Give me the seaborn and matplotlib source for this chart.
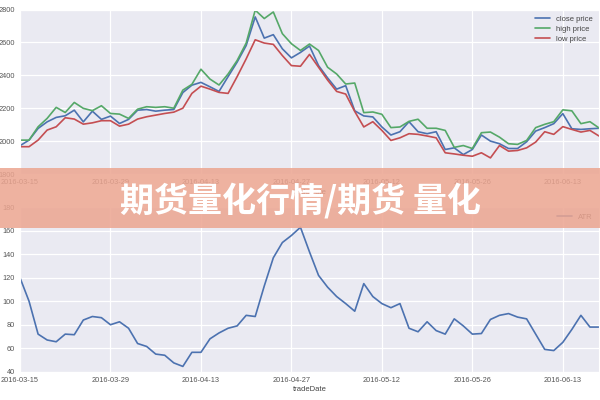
import matplotlib
matplotlib.use("Agg")
import matplotlib.pyplot as plt
import seaborn as sns
import pandas as pd
from matplotlib.patches import Rectangle

# ---- data ----
close_price = [1972, 2006, 2077, 2117, 2144, 2154, 2188, 2117, 2182, 2132,
               2152, 2107, 2132, 2188, 2192, 2182, 2188, 2192, 2295, 2340,
               2357, 2330, 2302, 2392, 2480, 2581, 2755, 2626, 2647, 2561,
               2506, 2539, 2578, 2459, 2384, 2316, 2337, 2184, 2153, 2147,
               2086, 2037, 2057, 2118, 2057, 2045, 2057, 1949, 1959, 1918,
               1949, 2037, 2000, 1984, 1955, 1955, 1996, 2061, 2082, 2106,
               2167, 2075, 2071, 2075, 2078]
high_price = [2006, 2006, 2087, 2138, 2205, 2174, 2235, 2199, 2185, 2215,
              2168, 2164, 2138, 2194, 2209, 2205, 2209, 2200, 2310, 2345,
              2437, 2377, 2341, 2408, 2490, 2596, 2796, 2745, 2785, 2653,
              2592, 2551, 2590, 2551, 2449, 2408, 2347, 2353, 2173, 2177,
              2163, 2082, 2086, 2120, 2133, 2078, 2078, 2065, 1962, 1973,
              1955, 2051, 2055, 2024, 1984, 1980, 2004, 2082, 2102, 2118,
              2190, 2184, 2106, 2118, 2080]
low_price = [1966, 1966, 2006, 2067, 2087, 2142, 2134, 2103, 2111, 2124,
             2124, 2091, 2103, 2134, 2148, 2158, 2168, 2176, 2200, 2290,
             2334, 2316, 2296, 2290, 2392, 2500, 2616, 2596, 2588, 2520,
             2459, 2455, 2527, 2449, 2371, 2302, 2286, 2180, 2086, 2118,
             2065, 2004, 2020, 2045, 2041, 2031, 2020, 1929, 1922, 1914,
             1908, 1929, 1898, 1973, 1939, 1943, 1959, 1994, 2057, 2041,
             2088, 2071, 2055, 2065, 2031]
atr = [120, 100, 72, 67, 65.5, 72, 71.5, 84, 87, 86,
       80, 82.5, 77, 64, 61.5, 55, 54, 47.5, 44.5, 56.5,
       56.5, 68, 73, 77, 79, 88, 87, 113, 137, 150,
       156, 163, 142, 122, 112, 104, 98, 91.5, 115, 104,
       98, 94.5, 98, 77, 74, 82.5, 75, 72, 85, 79,
       72, 72.5, 84.5, 88, 89.5, 86.5, 85, 72, 59, 58,
       65, 76, 88, 78, 78]
tick_labels = ["2016-03-15", "2016-03-29", "2016-04-13", "2016-04-27",
               "2016-05-12", "2016-05-26", "2016-06-13"]
tick_step = 10
series_names = ["close price", "high price", "low price"]
banner_text = "期货量化行情/期货 量化"

# ---- style ----
sns.set_style("darkgrid")
plt.rcParams["font.family"] = ["Liberation Sans", "DejaVu Sans"]

n = len(close_price)
idx = list(range(n))
price_df = pd.DataFrame({
    "idx": idx * 3,
    "value": close_price + high_price + low_price,
    "series": [series_names[0]] * n + [series_names[1]] * n + [series_names[2]] * n,
})
atr_df = pd.DataFrame({"idx": idx, "ATR": atr})

blue, green, red = "#4C72B0", "#55A868", "#C44E52"
pal = {series_names[0]: blue, series_names[1]: green, series_names[2]: red}

fig = plt.figure(figsize=(6, 4), dpi=100)
W, H = 600, 400
ax1 = fig.add_axes([20 / W, 1 - 174 / H, 579 / W, 164.5 / H])
ax2 = fig.add_axes([20 / W, 1 - 371.7 / H, 579 / W, 164.4 / H])

sns.lineplot(data=price_df, x="idx", y="value", hue="series", palette=pal,
             linewidth=1.2, ax=ax1)
sns.lineplot(data=atr_df, x="idx", y="ATR", color=blue, linewidth=1.2,
             label="ATR", ax=ax2)

ticks = [i * tick_step for i in range(len(tick_labels))]
for ax in (ax1, ax2):
    ax.set_xlim(0, n - 1)
    ax.set_xticks(ticks)
    ax.set_xticklabels(tick_labels)
    ax.tick_params(labelsize=5.3, labelcolor="#555555", pad=3.5, length=0)
    ax.set_xlabel("tradeDate", fontsize=5.5, color="#444444", labelpad=2)
    ax.set_ylabel("")
    ax.set_facecolor("#EAEAF2")
    ax.grid(color="white", linewidth=0.9)

ax1.set_ylim(1800, 2800)
ax1.set_yticks([1800, 2000, 2200, 2400, 2600, 2800])
ax2.set_ylim(40, 180)
ax2.set_yticks([40, 60, 80, 100, 120, 140, 160, 180])

leg1 = ax1.legend(loc="upper right", fontsize=5.5, frameon=False,
                  labelspacing=0.35, handlelength=2.0, borderaxespad=0.4)
leg2 = ax2.legend(loc="upper right", fontsize=5.5, frameon=False,
                  handlelength=2.0, borderaxespad=0.4)
for leg in (leg1, leg2):
    for t in leg.get_texts():
        t.set_color("#444444")

# ---- banner overlay ----
fig.patches.append(Rectangle((0, 1 - 228 / H), 1, 60 / H, transform=fig.transFigure,
                             facecolor="#ECA590", alpha=0.85, edgecolor="none",
                             zorder=10))
fig.text(0.5, 1 - 201 / H, banner_text, ha="center", va="center",
         fontsize=24.5, color="white", fontweight=900,
         family=["Noto Sans CJK SC", "DejaVu Sans"], zorder=11)

fig.savefig("out.png", dpi=100)
